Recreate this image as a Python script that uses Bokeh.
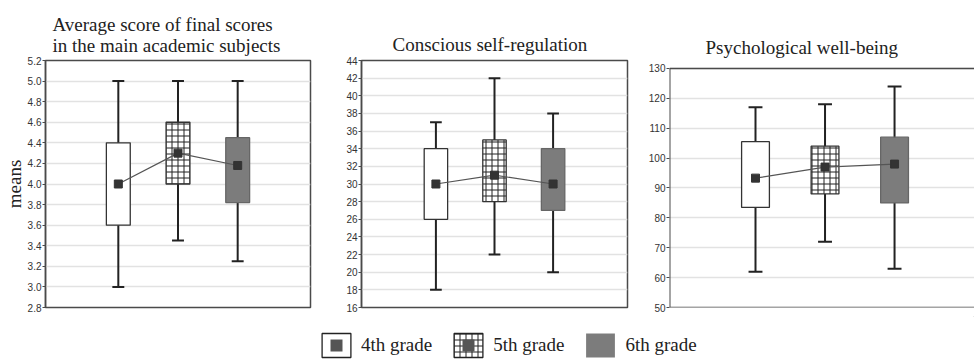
from bokeh.plotting import figure
from bokeh.layouts import column, row
from bokeh.models import (ColumnDataSource, FixedTicker, Legend, LegendItem,
                          Range1d, PrintfTickFormatter, Title, Span)
from bokeh.embed import file_html
from bokeh.resources import INLINE

# ---------------- data ----------------
grades = ["4th grade", "5th grade", "6th grade"]
positions = [1, 2, 3]

acad_whisker_low = [3.0, 3.45, 3.25]
acad_box_low = [3.6, 4.0, 3.82]
acad_box_high = [4.4, 4.6, 4.45]
acad_whisker_high = [5.0, 5.0, 5.0]
acad_mean = [4.0, 4.3, 4.18]
acad_ticks = [2.8, 3.0, 3.2, 3.4, 3.6, 3.8, 4.0, 4.2, 4.4, 4.6, 4.8, 5.0, 5.2]

reg_whisker_low = [18, 22, 20]
reg_box_low = [26, 28, 27]
reg_box_high = [34, 35, 34]
reg_whisker_high = [37, 42, 38]
reg_mean = [30, 31, 30]
reg_ticks = [16, 18, 20, 22, 24, 26, 28, 30, 32, 34, 36, 38, 40, 42, 44]

wb_whisker_low = [62, 72, 63]
wb_box_low = [83.5, 88, 85]
wb_box_high = [105.5, 104, 107]
wb_whisker_high = [117, 118, 124]
wb_mean = [93.3, 97, 98]
wb_ticks = [50, 60, 70, 80, 90, 100, 110, 120, 130]

# ---------------- styles ----------------
fills = ["white", "white", "#7c7c7c"]
hatches = [" ", "cross", " "]
box_lines = ["#333333", "#333333", "#666666"]
BOX_W = 0.4
CAP_W = 0.2
SERIF = "Liberation Serif"
SANS = "Liberation Sans"
FRAME = "#4a4a4a"


def make_panel(title, wlo, blo, bhi, whi, mean, ticks, yr, xr, width, height,
               bl, br, bt, bb, title_offset, title_standoff, open_frame=None,
               ylabel=None, fmt=None):
    p = figure(width=width, height=height, x_range=Range1d(*xr),
               y_range=Range1d(*yr), output_backend="svg",
               toolbar_location=None, min_border_left=bl, min_border_right=br,
               min_border_top=bt, min_border_bottom=bb)
    p.background_fill_color = "white"
    p.border_fill_color = "white"
    t = Title(text=title, text_font=SERIF, text_font_size="19px",
              text_font_style="normal", text_color="#222222", align="left",
              offset=title_offset, standoff=title_standoff,
              text_line_height=1.0)
    p.add_layout(t, "above")
    p.xaxis.visible = False
    p.xgrid.grid_line_color = None
    p.ygrid.grid_line_color = "#e2e2e2"
    p.ygrid.grid_line_width = 1.5
    p.yaxis.ticker = FixedTicker(ticks=ticks)
    if fmt:
        p.yaxis.formatter = PrintfTickFormatter(format=fmt)
    p.yaxis.major_label_text_font = SANS
    p.yaxis.major_label_text_font_size = "10px"
    p.yaxis.major_label_text_color = "#333333"
    p.yaxis.major_label_standoff = 1
    p.yaxis.major_tick_out = 3
    p.yaxis.major_tick_in = 0
    p.yaxis.major_tick_line_color = FRAME
    p.yaxis.minor_tick_line_color = None
    p.yaxis.axis_line_color = FRAME
    p.yaxis.axis_line_width = 1.5
    if ylabel:
        p.yaxis.axis_label = ylabel
        p.yaxis.axis_label_text_font = SERIF
        p.yaxis.axis_label_text_font_size = "19px"
        p.yaxis.axis_label_text_font_style = "normal"
        p.yaxis.axis_label_text_color = "#222222"
        p.yaxis.axis_label_standoff = 0
    if open_frame:
        # frame drawn only on the left, top and bottom of the value span
        lo, hi = open_frame
        p.outline_line_color = None
        p.yaxis.axis_line_color = None
        for loc in (lo, hi):
            p.add_layout(Span(location=loc, dimension="width",
                              line_color=FRAME, line_width=1.5))
        p.segment(x0=[xr[0]], y0=[lo], x1=[xr[0]], y1=[hi],
                  line_color=FRAME, line_width=2)
    else:
        p.outline_line_color = FRAME
        p.outline_line_width = 1.5

    src = ColumnDataSource(dict(x=positions, wlo=wlo, blo=blo, bhi=bhi,
                                whi=whi, mean=mean, fill=fills,
                                hatch=hatches, line=box_lines,
                                cl=[v - CAP_W / 2 for v in positions],
                                cr=[v + CAP_W / 2 for v in positions]))
    p.segment(x0="x", y0="wlo", x1="x", y1="whi", source=src,
              line_color="#222222", line_width=2)
    p.segment(x0="cl", y0="wlo", x1="cr", y1="wlo", source=src,
              line_color="#222222", line_width=2)
    p.segment(x0="cl", y0="whi", x1="cr", y1="whi", source=src,
              line_color="#222222", line_width=2)
    p.vbar(x="x", width=BOX_W, bottom="blo", top="bhi", source=src,
           fill_color="fill", line_color="line", line_width=1.3,
           hatch_pattern="hatch", hatch_color="#222222", hatch_scale=6,
           hatch_weight=1)
    p.line(x="x", y="mean", source=src, line_color="#555555", line_width=1.2)
    p.scatter(x="x", y="mean", source=src, marker="square", size=8,
              fill_color="#333333", line_color="#333333")
    return p


ROW_H = 316
p1 = make_panel("Average score of final scores\nin the main academic subjects",
                acad_whisker_low, acad_box_low, acad_box_high,
                acad_whisker_high, acad_mean, acad_ticks, (2.8, 5.2),
                (-0.22, 4.22), 320, ROW_H, 42, 10, 60, 9, 7, 9,
                ylabel="means", fmt="%.1f")
p2 = make_panel("Conscious self-regulation", reg_whisker_low, reg_box_low,
                reg_box_high, reg_whisker_high, reg_mean, reg_ticks, (16, 44),
                (-0.27, 4.27), 320, ROW_H, 41, 13, 60, 9, 31, 12)
p3 = make_panel("Psychological well-being", wb_whisker_low, wb_box_low,
                wb_box_high, wb_whisker_high, wb_mean, wb_ticks,
                (50, 132.67), (-0.237, 4.15), 334, ROW_H, 29, 0, 60, 9, 36, 6,
                open_frame=(wb_ticks[0], wb_ticks[-1]))

# ---------------- legend ----------------
# legend swatches: renderers hold real grade values but lie outside the
# visible range of this strip; only their legend icons are shown
lp = figure(width=974, height=44, x_range=Range1d(-2, -1),
            y_range=Range1d(-2, -1), output_backend="svg",
            toolbar_location=None, min_border=0)
lp.axis.visible = False
lp.grid.visible = False
lp.outline_line_color = None
items = []
for i, (g, f, h) in enumerate(zip(grades, fills, hatches)):
    r_box = lp.vbar(x=[positions[i]], bottom=[acad_box_low[i]],
                    top=[acad_box_high[i]], width=0.1, fill_color=f,
                    line_color="#222222" if f == "white" else None,
                    line_width=1.3, hatch_pattern=h, hatch_color="#222222",
                    hatch_scale=6, hatch_weight=1)
    rs = [r_box]
    if f == "white":
        r_m = lp.scatter(x=[positions[i]], y=[acad_mean[i]], marker="square",
                         size=6, fill_color="#555555", line_color=None)
        rs.append(r_m)
    items.append(LegendItem(label=g, renderers=rs))
legend = Legend(items=items, orientation="horizontal", location=(318, 0),
                glyph_width=36, glyph_height=30, label_standoff=7,
                spacing=18, padding=0, margin=0, border_line_color=None,
                background_fill_alpha=0, label_text_font=SERIF,
                label_text_font_size="19px", label_text_color="#222222")
lp.add_layout(legend, "center")

layout = column(row(p1, p2, p3), lp)
open("out.html", "w").write(file_html(layout, INLINE))
